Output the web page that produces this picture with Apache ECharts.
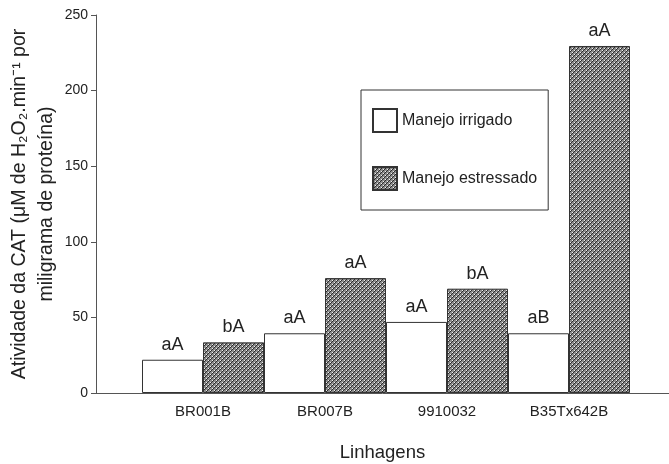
<!DOCTYPE html>
<html>
<head>
<meta charset="utf-8">
<script src="https://cdn.jsdelivr.net/npm/echarts@6/dist/echarts.min.js"></script>
<style>html,body{margin:0;padding:0;background:#fff}#c{width:669px;height:464px}</style>
</head>
<body>
<div id="c"></div>
<script>
var categories = ['BR001B', 'BR007B', '9910032', 'B35Tx642B'];
var irrigado = [22, 39.5, 47, 39.5];
var estressado = [33.5, 76, 69, 229.5];
var irrigadoLetters = ['aA', 'aA', 'aA', 'aB'];
var estressadoLetters = ['bA', 'aA', 'bA', 'aA'];
var yTicks = [0, 50, 100, 150, 200, 250];

function makePattern() {
  var c = document.createElement('canvas');
  c.width = 4; c.height = 4;
  var ctx = c.getContext('2d');
  ctx.fillStyle = '#8a8a8a';
  ctx.fillRect(0, 0, 4, 4);
  ctx.fillStyle = '#f0f0f0';
  ctx.fillRect(0, 0, 1, 1);
  ctx.fillRect(2, 2, 1, 1);
  ctx.fillStyle = '#2a2a2a';
  ctx.fillRect(1, 0, 1, 1);
  ctx.fillRect(0, 1, 1, 1);
  ctx.fillRect(3, 2, 1, 1);
  ctx.fillRect(2, 3, 1, 1);
  return c;
}
var pattern = { image: makePattern(), repeat: 'repeat' };

var FONT = 'Liberation Sans, Arial, sans-serif';
var TXT = '#222';
var chart = echarts.init(document.getElementById('c'), null, { renderer: 'canvas' });
chart.setOption({
  animation: false,
  backgroundColor: '#fff',
  textStyle: { fontFamily: FONT, color: TXT },
  grid: [
    { left: 96, right: 0, top: 15, bottom: 71, outerBoundsMode: 'none', containLabel: false },
    { left: 142, right: 39, top: 15, bottom: 71, outerBoundsMode: 'none', containLabel: false }
  ],
  legend: {
    orient: 'vertical',
    left: 361, top: 90,
    padding: [18, 11, 19, 11],
    itemGap: 33,
    itemWidth: 24, itemHeight: 23,
    icon: 'rect',
    borderColor: '#333', borderWidth: 1,
    backgroundColor: '#fff',
    textStyle: { fontSize: 16, color: TXT, fontFamily: FONT },
    data: ['Manejo irrigado', 'Manejo estressado']
  },
  xAxis: [
    {
      gridIndex: 0, type: 'value', min: 0, max: 1,
      axisLine: { show: true, lineStyle: { color: '#555', width: 1 } },
      axisTick: { show: false }, axisLabel: { show: false }, splitLine: { show: false },
      name: 'Linhagens', nameLocation: 'middle', nameGap: 50,
      nameTextStyle: { fontSize: 18.5, color: TXT, fontFamily: FONT }
    },
    {
      gridIndex: 1, type: 'category', data: categories,
      axisLine: { show: false }, axisTick: { show: false },
      axisLabel: { fontSize: 15, color: TXT, margin: 11, fontFamily: FONT }
    }
  ],
  yAxis: [
    {
      gridIndex: 0, type: 'value', min: 0, max: 250, interval: 50,
      axisLine: { show: true, lineStyle: { color: '#555', width: 1 } },
      axisTick: { show: true, length: 5, lineStyle: { color: '#555' } },
      axisLabel: { fontSize: 14, color: TXT, margin: 8, fontFamily: FONT,
        formatter: function (v) { return yTicks.indexOf(v) >= 0 ? String(v) : ''; } },
      splitLine: { show: false },
      name: 'Atividade da CAT (μM de H₂O₂.min⁻¹ por\nmiligrama de proteína)',
      nameLocation: 'middle', nameGap: 36, nameMoveOverlap: false,
      nameTextStyle: { fontSize: 19.5, color: TXT, fontFamily: FONT, lineHeight: 27, align: 'center' }
    },
    {
      gridIndex: 1, type: 'value', min: 0, max: 250, interval: 50, show: false,
      splitLine: { show: false }
    }
  ],
  series: [
    {
      name: 'Manejo irrigado', type: 'bar', xAxisIndex: 1, yAxisIndex: 1,
      data: irrigado, barGap: '0%', barCategoryGap: '0%',
      itemStyle: { color: '#fff', borderColor: '#333', borderWidth: 1 },
      label: { show: true, position: 'top', distance: 6, fontSize: 18, color: TXT, fontFamily: FONT,
        formatter: function (p) { return irrigadoLetters[p.dataIndex]; } }
    },
    {
      name: 'Manejo estressado', type: 'bar', xAxisIndex: 1, yAxisIndex: 1,
      data: estressado, barGap: '0%', barCategoryGap: '0%',
      itemStyle: { color: pattern, borderColor: '#333', borderWidth: 1 },
      label: { show: true, position: 'top', distance: 6, fontSize: 18, color: TXT, fontFamily: FONT,
        formatter: function (p) { return estressadoLetters[p.dataIndex]; } }
    }
  ]
});
</script>
</body>
</html>
